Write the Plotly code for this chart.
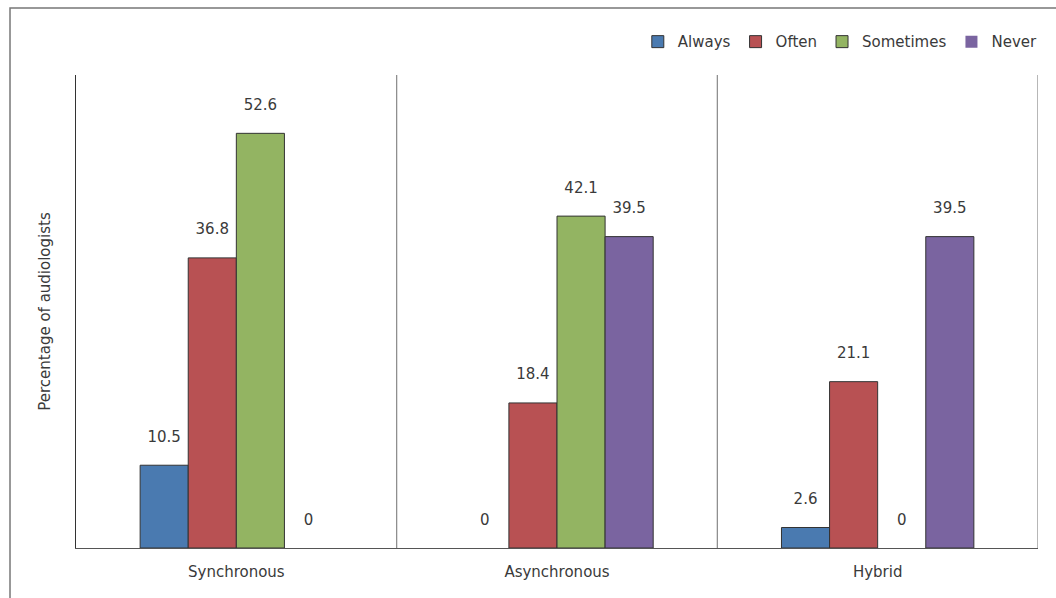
import plotly.graph_objects as go

categories = ["Synchronous", "Asynchronous", "Hybrid"]
series_names = ["Always", "Often", "Sometimes", "Never"]
always = [10.5, 0, 2.6]
often = [36.8, 18.4, 21.1]
sometimes = [52.6, 42.1, 0]
never = [0, 39.5, 39.5]
colors = ["#4a7ab0", "#b85153", "#93b462", "#7a64a0"]

FONT = "'DejaVu Sans', sans-serif"
TXT = "#3a3a3a"
FS = 15

fig = go.Figure()
for name, vals, col in zip(series_names, [always, often, sometimes, never], colors):
    fig.add_trace(go.Bar(
        x=categories, y=vals, name=name,
        marker=dict(color=col,
                    line=dict(color="#333333", width=[1 if v > 0 else 0 for v in vals])),
        text=[f"{v:g}<br><span style='font-size:6px'> </span>" for v in vals],
        textposition="outside",
        textfont=dict(size=FS, color=TXT, family=FONT),
        cliponaxis=False,
    ))

shapes = []
for xv in [0.5, 1.5, 2.5]:
    shapes.append(dict(type="line", xref="x", yref="paper", x0=xv, x1=xv, y0=0, y1=1,
                       line=dict(color="#888888", width=1.2)))
shapes.append(dict(type="rect", xref="paper", yref="paper", x0=-0.0686, x1=1.06,
                   y0=-0.3, y1=1.1416, line=dict(color="#777777", width=1.5),
                   fillcolor="rgba(0,0,0,0)", layer="below"))
fig.update_layout(
    width=1056, height=598,
    margin=dict(l=76, r=18, t=75, b=50),
    plot_bgcolor="white", paper_bgcolor="white",
    barmode="group", bargap=0.4, bargroupgap=0,
    font=dict(family=FONT, size=FS, color=TXT),
    showlegend=True,
    legend=dict(orientation="h", x=1.005, xanchor="right", y=1.07, yanchor="middle",
                font=dict(size=FS, color=TXT), traceorder="normal",
                itemwidth=30),
    shapes=shapes,
    xaxis=dict(showline=True, linecolor="#555555", linewidth=1.2, ticks="",
               showgrid=False, tickfont=dict(size=FS), range=[-0.5, 2.5],
               ticklabelstandoff=10),
    yaxis=dict(range=[0, 60], showline=True, linecolor="#333333", linewidth=1.2,
               showticklabels=False, ticks="", showgrid=False, zeroline=False,
               title=dict(text="Percentage of audiologists", standoff=20,
                          font=dict(size=FS))),
)
fig.write_html("out.html")
